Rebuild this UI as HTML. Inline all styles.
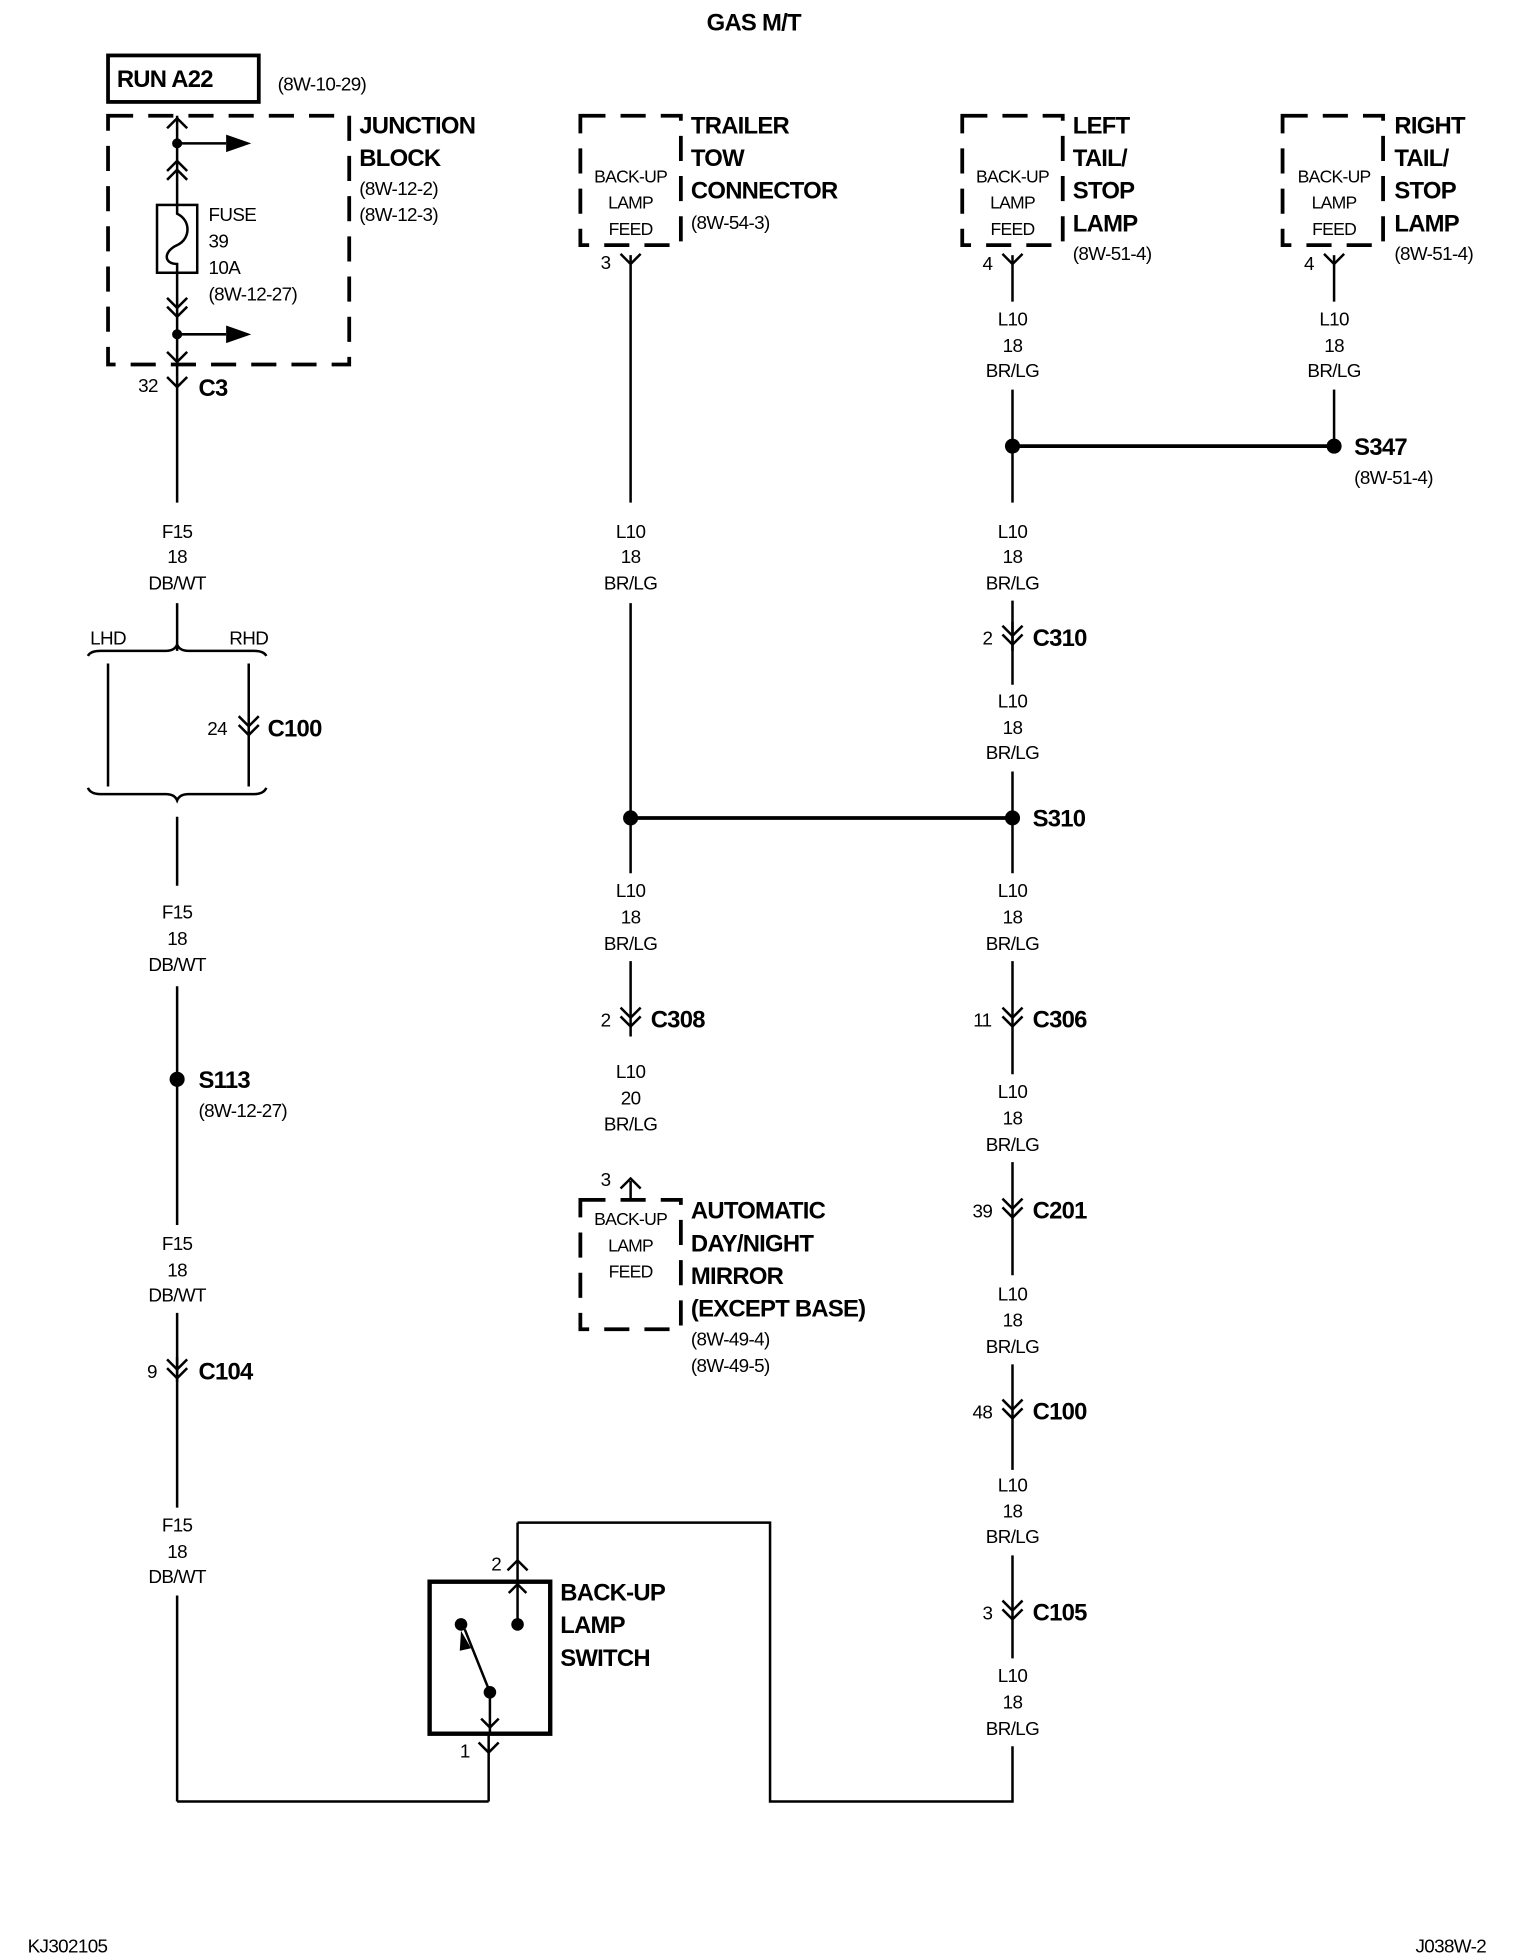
<!DOCTYPE html>
<html><head><meta charset="utf-8"><style>
html,body{margin:0;padding:0;background:#fff;}
svg{display:block;}
text{font-family:"Liberation Sans Narrow","Liberation Sans",sans-serif;fill:#000;}
.b{font-weight:bold;font-size:19px;letter-spacing:-0.6px;}
.n{font-size:15px;letter-spacing:-0.5px;}
.w{font-size:15px;text-anchor:middle;letter-spacing:-0.5px;}
.s{font-size:14px;text-anchor:middle;letter-spacing:-0.6px;}
</style></head><body>
<svg width="1520" height="1960" viewBox="0 0 1210 1560" xmlns="http://www.w3.org/2000/svg">
<defs>
<path id="dc" d="M-8,-10 L0,-2 L8,-10 M-8,-3 L0,5 L8,-3" fill="none" stroke="#000" stroke-width="2"/>
<path id="yc" d="M-8,-8 L0,0 L8,-8" fill="none" stroke="#000" stroke-width="2"/>
<path id="uc" d="M-8,8 L0,0 L8,8" fill="none" stroke="#000" stroke-width="2"/>
</defs>
<rect width="1210" height="1560" fill="#fff"/>
<text x="600" y="24" class="b" text-anchor="middle">GAS M/T</text>

<rect x="86" y="44" width="120" height="37" fill="none" stroke="#000" stroke-width="3"/>
<text x="93" y="69" class="b" font-size="19">RUN A22</text>
<text x="221" y="72" class="n">(8W-10-29)</text>

<g fill="none" stroke="#000" stroke-width="3" stroke-dasharray="20,12">
<rect x="86" y="92" width="192" height="198"/>
<rect x="462" y="92" width="80" height="103"/>
<rect x="766" y="92" width="80" height="103"/>
<rect x="1021" y="92" width="80" height="103"/>
<rect x="462" y="955" width="80" height="103"/>
</g>

<g stroke="#000" stroke-width="2" fill="none">
<line x1="141" y1="92" x2="141" y2="163"/>
<line x1="141" y1="217" x2="141" y2="400"/>
<path d="M133,102 L141,94 L149,102"/>
<path d="M133,150 L141,142 L149,150 M133,157 L141,149 L149,157" transform="translate(0,-14)"/>
<line x1="141" y1="114" x2="180" y2="114"/>
<path d="M133,227 L141,235 L149,227 M133,234 L141,242 L149,234" transform="translate(0,10)"/>
<line x1="141" y1="266" x2="180" y2="266"/>
<path d="M133,280 L141,288 L149,280"/>
<rect x="125" y="163" width="32" height="54"/>
<path d="M141,163 L141,170 C152,175 152,190 141,195 C130,200 130,210 141,210 L141,217"/>
</g>
<circle cx="141" cy="114" r="4"/>
<circle cx="141" cy="266" r="4"/>
<path d="M180,107 L200,114 L180,121Z"/>
<path d="M180,259 L200,266 L180,273Z"/>
<text x="166" y="176" class="n">FUSE</text>
<text x="166" y="197" class="n">39</text>
<text x="166" y="218" class="n">10A</text>
<text x="166" y="239" class="n">(8W-12-27)</text>
<text x="286" y="106" class="b">JUNCTION</text>
<text x="286" y="132" class="b">BLOCK</text>
<text x="286" y="155" class="n">(8W-12-2)</text>
<text x="286" y="176" class="n">(8W-12-3)</text>

<use href="#yc" x="141" y="308"/>
<text x="110" y="312" class="n">32</text>
<text x="158" y="315" class="b">C3</text>

<g stroke="#000" stroke-width="2" fill="none">
<line x1="141" y1="480" x2="141" y2="518"/>
<path d="M70,522 Q72,518 80,518 L132,518 Q139,518 141,513 Q143,518 150,518 L202,518 Q210,518 212,522"/>
<line x1="86" y1="528" x2="86" y2="626"/>
<line x1="198" y1="528" x2="198" y2="626"/>
<path d="M70,627 Q72,632 80,632 L132,632 Q139,632 141,637 Q143,632 150,632 L202,632 Q210,632 212,627"/>
<line x1="141" y1="650" x2="141" y2="705"/>
<line x1="141" y1="785" x2="141" y2="975"/>
<line x1="141" y1="1045" x2="141" y2="1200"/>
<line x1="141" y1="1270" x2="141" y2="1434"/>
<line x1="141" y1="1434" x2="389" y2="1434"/>
<line x1="389" y1="1434" x2="389" y2="1380"/>
</g>
<text x="141" y="428" class="w">F15</text><text x="141" y="448" class="w">18</text><text x="141" y="469" class="w">DB/WT</text>
<text x="86" y="513" class="w">LHD</text><text x="198" y="513" class="w">RHD</text>
<use href="#dc" x="198" y="580"/>
<text x="165" y="585" class="n">24</text><text x="213" y="586" class="b">C100</text>
<text x="141" y="731" class="w">F15</text><text x="141" y="752" class="w">18</text><text x="141" y="773" class="w">DB/WT</text>
<circle cx="141" cy="859" r="6"/>
<text x="158" y="866" class="b">S113</text><text x="158" y="889" class="n">(8W-12-27)</text>
<text x="141" y="995" class="w">F15</text><text x="141" y="1016" class="w">18</text><text x="141" y="1036" class="w">DB/WT</text>
<line x1="141" y1="1080" x2="141" y2="1100" stroke="#000" stroke-width="2"/>
<use href="#dc" x="141" y="1092"/>
<text x="117" y="1097" class="n">9</text><text x="158" y="1098" class="b">C104</text>
<text x="141" y="1219" class="w">F15</text><text x="141" y="1240" class="w">18</text><text x="141" y="1260" class="w">DB/WT</text>

<rect x="342" y="1259" width="96" height="121" fill="none" stroke="#000" stroke-width="3.5"/>
<g stroke="#000" stroke-width="2" fill="none">
<line x1="412" y1="1212" x2="412" y2="1293"/>
<path d="M404,1250 L412,1242 L420,1250"/>
<path d="M405,1268 L412,1261 L419,1268"/>
<polyline points="412,1212 613,1212 613,1434 806,1434 806,1390"/>
<line x1="390" y1="1347" x2="370" y2="1297"/>
<line x1="390" y1="1347" x2="390" y2="1380"/>
<path d="M383,1368 L390,1375 L397,1368"/>
<path d="M381,1387 L389,1395 L397,1387"/>
</g>
<path d="M367,1298 L375,1312 L366,1314Z"/>
<circle cx="367" cy="1293" r="5"/><circle cx="412" cy="1293" r="5"/><circle cx="390" cy="1347" r="5"/>
<text x="395" y="1250" class="n" text-anchor="middle">2</text>
<text x="370" y="1399" class="n" text-anchor="middle">1</text>
<text x="446" y="1274" class="b">BACK-UP</text><text x="446" y="1300" class="b">LAMP</text><text x="446" y="1326" class="b">SWITCH</text>

<text x="502" y="145" class="s">BACK-UP</text><text x="502" y="166" class="s">LAMP</text><text x="502" y="187" class="s">FEED</text>
<text x="806" y="145" class="s">BACK-UP</text><text x="806" y="166" class="s">LAMP</text><text x="806" y="187" class="s">FEED</text>
<text x="1062" y="145" class="s">BACK-UP</text><text x="1062" y="166" class="s">LAMP</text><text x="1062" y="187" class="s">FEED</text>
<text x="502" y="975" class="s">BACK-UP</text><text x="502" y="996" class="s">LAMP</text><text x="502" y="1017" class="s">FEED</text>

<text x="550" y="106" class="b">TRAILER</text><text x="550" y="132" class="b">TOW</text><text x="550" y="158" class="b">CONNECTOR</text><text x="550" y="182" class="n">(8W-54-3)</text>
<text x="854" y="106" class="b">LEFT</text><text x="854" y="132" class="b">TAIL/</text><text x="854" y="158" class="b">STOP</text><text x="854" y="184" class="b">LAMP</text><text x="854" y="207" class="n">(8W-51-4)</text>
<text x="1110" y="106" class="b">RIGHT</text><text x="1110" y="132" class="b">TAIL/</text><text x="1110" y="158" class="b">STOP</text><text x="1110" y="184" class="b">LAMP</text><text x="1110" y="207" class="n">(8W-51-4)</text>
<text x="550" y="970" class="b">AUTOMATIC</text><text x="550" y="996" class="b">DAY/NIGHT</text><text x="550" y="1022" class="b">MIRROR</text><text x="550" y="1048" class="b">(EXCEPT BASE)</text>
<text x="550" y="1071" class="n">(8W-49-4)</text><text x="550" y="1092" class="n">(8W-49-5)</text>

<g stroke="#000" stroke-width="2" fill="none">
<line x1="502" y1="203" x2="502" y2="400"/>
<line x1="502" y1="480" x2="502" y2="695"/>
<line x1="502" y1="765" x2="502" y2="825"/>
<line x1="502" y1="940" x2="502" y2="955"/>
<line x1="806" y1="203" x2="806" y2="240"/>
<line x1="806" y1="310" x2="806" y2="400"/>
<line x1="1062" y1="203" x2="1062" y2="240"/>
<line x1="1062" y1="310" x2="1062" y2="355"/>
<line x1="806" y1="478" x2="806" y2="545"/>
<line x1="806" y1="614" x2="806" y2="695"/>
<line x1="806" y1="765" x2="806" y2="855"/>
<line x1="806" y1="925" x2="806" y2="1015"/>
<line x1="806" y1="1086" x2="806" y2="1170"/>
<line x1="806" y1="1238" x2="806" y2="1320"/>
</g>
<line x1="502" y1="651" x2="806" y2="651" stroke="#000" stroke-width="3"/>
<line x1="806" y1="355" x2="1062" y2="355" stroke="#000" stroke-width="3"/>
<use href="#yc" x="502" y="210"/><text x="482" y="214" class="n" text-anchor="middle">3</text>
<use href="#yc" x="806" y="210"/><text x="786" y="215" class="n" text-anchor="middle">4</text>
<use href="#yc" x="1062" y="210"/><text x="1042" y="215" class="n" text-anchor="middle">4</text>
<use href="#uc" x="502" y="938"/><text x="482" y="944" class="n" text-anchor="middle">3</text>

<text x="502" y="428" class="w">L10</text><text x="502" y="448" class="w">18</text><text x="502" y="469" class="w">BR/LG</text>
<circle cx="502" cy="651" r="6"/>
<text x="502" y="714" class="w">L10</text><text x="502" y="735" class="w">18</text><text x="502" y="756" class="w">BR/LG</text>
<use href="#dc" x="502" y="812"/><text x="482" y="817" class="n" text-anchor="middle">2</text><text x="518" y="818" class="b">C308</text>
<text x="502" y="858" class="w">L10</text><text x="502" y="879" class="w">20</text><text x="502" y="900" class="w">BR/LG</text>

<text x="806" y="259" class="w">L10</text><text x="806" y="280" class="w">18</text><text x="806" y="300" class="w">BR/LG</text>
<text x="1062" y="259" class="w">L10</text><text x="1062" y="280" class="w">18</text><text x="1062" y="300" class="w">BR/LG</text>
<circle cx="806" cy="355" r="6"/><circle cx="1062" cy="355" r="6"/>
<text x="1078" y="362" class="b">S347</text><text x="1078" y="385" class="n">(8W-51-4)</text>
<text x="806" y="428" class="w">L10</text><text x="806" y="448" class="w">18</text><text x="806" y="469" class="w">BR/LG</text>
<line x1="806" y1="495" x2="806" y2="518" stroke="#000" stroke-width="2"/>
<use href="#dc" x="806" y="508"/><text x="786" y="513" class="n" text-anchor="middle">2</text><text x="822" y="514" class="b">C310</text>
<text x="806" y="563" class="w">L10</text><text x="806" y="584" class="w">18</text><text x="806" y="604" class="w">BR/LG</text>
<circle cx="806" cy="651" r="6"/><text x="822" y="658" class="b">S310</text>
<text x="806" y="714" class="w">L10</text><text x="806" y="735" class="w">18</text><text x="806" y="756" class="w">BR/LG</text>
<use href="#dc" x="806" y="812"/><text x="782" y="817" class="n" text-anchor="middle">11</text><text x="822" y="818" class="b">C306</text>
<text x="806" y="874" class="w">L10</text><text x="806" y="895" class="w">18</text><text x="806" y="916" class="w">BR/LG</text>
<use href="#dc" x="806" y="964"/><text x="782" y="969" class="n" text-anchor="middle">39</text><text x="822" y="970" class="b">C201</text>
<text x="806" y="1035" class="w">L10</text><text x="806" y="1056" class="w">18</text><text x="806" y="1077" class="w">BR/LG</text>
<use href="#dc" x="806" y="1124"/><text x="782" y="1129" class="n" text-anchor="middle">48</text><text x="822" y="1130" class="b">C100</text>
<text x="806" y="1187" class="w">L10</text><text x="806" y="1208" class="w">18</text><text x="806" y="1228" class="w">BR/LG</text>
<use href="#dc" x="806" y="1284"/><text x="786" y="1289" class="n" text-anchor="middle">3</text><text x="822" y="1290" class="b">C105</text>
<text x="806" y="1339" class="w">L10</text><text x="806" y="1360" class="w">18</text><text x="806" y="1381" class="w">BR/LG</text>

<text x="22" y="1554" class="n" font-size="14">KJ302105</text>
<text x="1183" y="1554" class="n" font-size="14" text-anchor="end">J038W-2</text>
</svg>
</body></html>
